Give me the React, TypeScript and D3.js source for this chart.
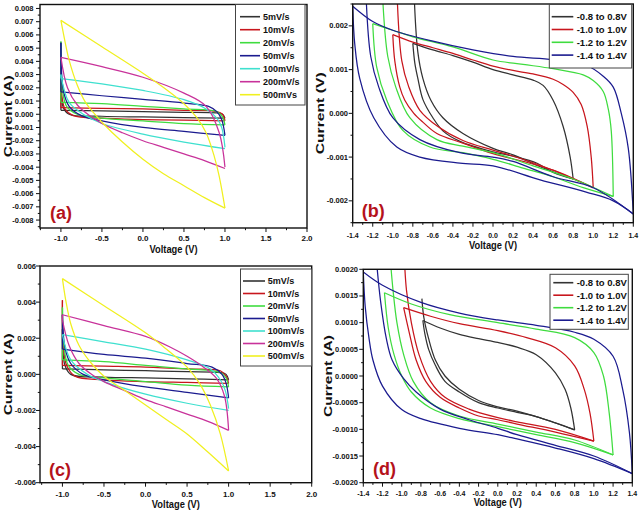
import React from "react";
import * as d3 from "d3";

type P = [number, number];

// ---------- labels / colours ----------
const rateLabelsA = ["5mV/s", "10mV/s", "20mV/s", "50mV/s", "100mV/s", "200mV/s", "500mVs"];
const rateLabelsC = ["5mV/s", "10mV/s", "20mV/s", "50mV/s", "100mV/s", "200mV/s", "500mV/s"];
const rateColors = ["#333333", "#c8161d", "#3fdc3f", "#1b1b8f", "#3fe0cf", "#c8329a", "#f0f020"];
const windowLabels = ["-0.8 to 0.8V", "-1.0 to 1.0V", "-1.2 to 1.2V", "-1.4 to 1.4V"];
const windowColors = ["#333333", "#c8161d", "#3fdc3f", "#1b1b8f"];

// ---------- ticks ----------
const aXTicks = [-1.0, -0.5, 0.0, 0.5, 1.0, 1.5, 2.0];
const aYTicks = [-0.008, -0.007, -0.006, -0.005, -0.004, -0.003, -0.002, -0.001, 0, 0.001, 0.002, 0.003, 0.004, 0.005, 0.006, 0.007, 0.008];
const bXTicks = [-1.4, -1.2, -1.0, -0.8, -0.6, -0.4, -0.2, 0.0, 0.2, 0.4, 0.6, 0.8, 1.0, 1.2, 1.4];
const bYTicks = [-0.002, -0.001, 0, 0.001, 0.002];
const cXTicks = [-1.0, -0.5, 0.0, 0.5, 1.0, 1.5, 2.0];
const cYTicks = [-0.006, -0.004, -0.002, 0, 0.002, 0.004, 0.006];
const dXTicks = [-1.4, -1.2, -1.0, -0.8, -0.6, -0.4, -0.2, 0.0, 0.2, 0.4, 0.6, 0.8, 1.0, 1.2, 1.4];
const dYTicks = [-0.002, -0.0015, -0.001, -0.0005, 0, 0.0005, 0.001, 0.0015, 0.002];

// ---------- panel (a): scan rates, forward (upper) and reverse (lower) branches ----------
const aUpper: P[][] = [
  [[-1, 0.0003], [-0.5, 0.00025], [0, 0.0002], [0.5, 0.00015], [0.9, 0.0001], [0.97, 0.0], [1, -0.0003]],
  [[-1, 0.0005], [-0.5, 0.00045], [0, 0.0004], [0.5, 0.0003], [0.9, 0.0002], [0.97, 0.0], [1, -0.0005]],
  [[-1, 0.0009], [-0.5, 0.0008], [0, 0.0006], [0.5, 0.0004], [0.9, 0.0002], [0.97, -0.0002], [1, -0.0008]],
  [[-1, 0.0017], [-0.5, 0.0014], [0, 0.00113], [0.5, 0.00085], [0.8, 0.0006], [0.9, 0.0002], [0.96, -0.0004], [1, -0.0016]],
  [[-1, 0.0027], [-0.5, 0.0023], [0, 0.0018], [0.5, 0.0011], [0.77, 0.0004], [0.9, -0.0003], [0.96, -0.001], [1, -0.0025]],
  [[-1, 0.0043], [-0.5, 0.0036], [0, 0.0028], [0.5, 0.0016], [0.77, 0.0006], [0.93, -0.0014], [1, -0.004]],
  [[-1, 0.0071], [-0.5, 0.0051], [0, 0.0031], [0.3, 0.0018], [0.5, 0.0008], [0.65, -0.0002], [0.77, -0.0014], [0.87, -0.0032], [0.93, -0.0047], [1, -0.0071]],
];
const aLower: P[][] = [
  [[1, -0.0003], [0.5, -0.00025], [0, -0.0002], [-0.5, -0.00015], [-0.9, 0.0], [-0.97, 0.0005], [-1, 0.0025]],
  [[1, -0.0005], [0.5, -0.00045], [0, -0.0004], [-0.5, -0.0003], [-0.85, -0.0001], [-0.95, 0.0004], [-0.99, 0.0015], [-1, 0.0035]],
  [[1, -0.0008], [0.5, -0.0007], [0, -0.0005], [-0.5, -0.0003], [-0.8, 0.0], [-0.93, 0.0006], [-0.98, 0.0018], [-1, 0.0055]],
  [[1, -0.0016], [0.5, -0.0013], [0, -0.001], [-0.5, -0.0005], [-0.75, -0.0001], [-0.9, 0.0006], [-0.97, 0.0018], [-1, 0.0054]],
  [[1, -0.0026], [0.5, -0.0021], [0, -0.0015], [-0.5, -0.0007], [-0.7, -0.0001], [-0.9, 0.0009], [-1, 0.003]],
  [[1, -0.0041], [0.75, -0.0035], [0.5, -0.003], [0.25, -0.0025], [0, -0.002], [-0.25, -0.0014], [-0.5, -0.0007], [-0.65, -0.0001], [-0.8, 0.0007], [-0.92, 0.002], [-1, 0.0043]],
  [[1, -0.0071], [0.75, -0.0063], [0.5, -0.0054], [0.25, -0.0045], [0, -0.0034], [-0.25, -0.0021], [-0.5, -0.0006], [-0.6, 0.0001], [-0.7, 0.0009], [-0.8, 0.0022], [-0.9, 0.0041], [-0.95, 0.0055], [-1, 0.0071]],
];

// ---------- panel (c) ----------
const cUpper: P[][] = [
  [[-1, 0.0003], [-0.5, 0.00025], [0, 0.0002], [0.5, 0.00015], [0.9, 0.0001], [0.97, 0.0], [1, -0.0003]],
  [[-1, 0.0005], [-0.5, 0.00045], [0, 0.0004], [0.5, 0.0003], [0.9, 0.0002], [0.97, -0.0001], [1, -0.0005]],
  [[-1, 0.0008], [-0.5, 0.0007], [0, 0.0005], [0.5, 0.0003], [0.9, 0.0001], [0.97, -0.0002], [1, -0.0007]],
  [[-1, 0.0014], [-0.5, 0.0011], [0, 0.0009], [0.5, 0.0006], [0.8, 0.0004], [0.92, 0.0], [0.97, -0.0005], [1, -0.0013]],
  [[-1, 0.0022], [-0.5, 0.0018], [0, 0.0014], [0.5, 0.0008], [0.78, 0.0003], [0.9, -0.0003], [0.96, -0.0009], [1, -0.0019]],
  [[-1, 0.0033], [-0.5, 0.0027], [0, 0.0021], [0.3, 0.0015], [0.5, 0.001], [0.7, 0.0004], [0.85, -0.0002], [0.95, -0.0012], [1, -0.0031]],
  [[-1, 0.0053], [-0.5, 0.0038], [0, 0.0023], [0.25, 0.0014], [0.5, 0.0004], [0.65, -0.0005], [0.78, -0.0017], [0.9, -0.0033], [1, -0.00535]],
];
const cLower: P[][] = [
  [[1, -0.0003], [0.5, -0.00025], [0, -0.0002], [-0.5, -0.00015], [-0.9, 0.0], [-0.97, 0.0005], [-1, 0.0025]],
  [[1, -0.0005], [0.5, -0.00045], [0, -0.0004], [-0.5, -0.0003], [-0.85, -0.0001], [-0.95, 0.0005], [-0.99, 0.0016], [-1, 0.0041]],
  [[1, -0.0007], [0.5, -0.0006], [0, -0.0004], [-0.5, -0.0002], [-0.8, 0.0], [-0.93, 0.0005], [-0.98, 0.0015], [-1, 0.0037]],
  [[1, -0.0013], [0.5, -0.001], [0, -0.0007], [-0.5, -0.0003], [-0.75, 0.0], [-0.9, 0.0006], [-0.97, 0.0015], [-1, 0.0033]],
  [[1, -0.002], [0.5, -0.0016], [0, -0.0011], [-0.5, -0.0004], [-0.7, 0.0], [-0.9, 0.0008], [-1, 0.0022]],
  [[1, -0.0031], [0.75, -0.0026], [0.5, -0.0022], [0.25, -0.0018], [0, -0.0014], [-0.25, -0.0009], [-0.5, -0.0004], [-0.65, 0.0], [-0.8, 0.0006], [-0.92, 0.0016], [-1, 0.003]],
  [[1, -0.00535], [0.75, -0.0043], [0.5, -0.0033], [0.25, -0.0025], [0, -0.0017], [-0.25, -0.0009], [-0.5, -0.0001], [-0.65, 0.0006], [-0.8, 0.0016], [-0.9, 0.0028], [-0.96, 0.0041], [-1, 0.0053]],
];

// ---------- panel (b): potential windows ----------
const bUpper: P[][] = [
  [[-0.8, 0.0016], [-0.6, 0.00145], [-0.4, 0.00132], [-0.2, 0.00117], [0, 0.001], [0.2, 0.00088], [0.4, 0.00076], [0.5, 0.00064], [0.6, 0.0003], [0.7, -0.0003], [0.77, -0.001], [0.8, -0.0015]],
  [[-1.0, 0.0018], [-0.8, 0.00163], [-0.6, 0.0015], [-0.4, 0.00137], [-0.2, 0.00122], [0, 0.00108], [0.2, 0.00098], [0.4, 0.0009], [0.6, 0.00078], [0.7, 0.00066], [0.8, 0.00048], [0.88, 0.0002], [0.94, -0.0003], [0.98, -0.001], [1.0, -0.0017]],
  [[-1.2, 0.00205], [-1.0, 0.0019], [-0.8, 0.00175], [-0.4, 0.00152], [0, 0.00122], [0.3, 0.00112], [0.6, 0.00102], [0.9, 0.00088], [1.0, 0.00075], [1.1, 0.0005], [1.15, 0.0001], [1.18, -0.0004], [1.2, -0.0019]],
  [[-1.4, 0.00245], [-1.2, 0.0021], [-1.0, 0.0019], [-0.6, 0.00165], [-0.2, 0.00145], [0.2, 0.0013], [0.6, 0.00123], [0.93, 0.0011], [1.1, 0.00085], [1.2, 0.0006], [1.28, 0.0], [1.35, -0.0008], [1.4, -0.0023]],
];
const bLowerOuter: P[][] = [
  [[0.8, -0.0015], [0.6, -0.00135], [0.44, -0.00114], [0.2, -0.00098], [0, -0.00088], [-0.33, -0.00064], [-0.5, -0.0004], [-0.6, -0.0001], [-0.7, 0.00032], [-0.75, 0.0008], [-0.78, 0.00115], [-0.8, 0.0016]],
  [[1.0, -0.0017], [0.6, -0.0013], [0.3, -0.0011], [0, -0.00092], [-0.3, -0.00068], [-0.56, -0.00046], [-0.7, -0.0002], [-0.79, 0.0], [-0.88, 0.0003], [-0.93, 0.0006], [-0.98, 0.0012], [-1.0, 0.0018]],
  [[1.2, -0.0019], [0.9, -0.0017], [0.6, -0.00145], [0.3, -0.00125], [0, -0.00105], [-0.3, -0.0009], [-0.63, -0.00077], [-0.9, -0.00039], [-1.06, 0.0003], [-1.16, 0.00105], [-1.2, 0.00205]],
  [[1.4, -0.0023], [1.2, -0.002], [0.93, -0.0018], [0.47, -0.00152], [0, -0.0012], [-0.33, -0.00114], [-0.73, -0.001], [-0.96, -0.00077], [-1.19, -0.0001], [-1.33, 0.0008], [-1.38, 0.0016], [-1.4, 0.00245]],
];
const bLowerInner: P[][] = [
  [[0.8, -0.0015], [0.5, -0.00125], [0.2, -0.00095], [0, -0.0008], [-0.3, -0.00046], [-0.5, -0.0001], [-0.62, 0.0003], [-0.7, 0.0008], [-0.75, 0.0014], [-0.785, 0.0026]],
  [[1.0, -0.0017], [0.6, -0.0013], [0.3, -0.00105], [0, -0.00084], [-0.3, -0.00062], [-0.55, -0.0003], [-0.73, 0.00007], [-0.84, 0.0006], [-0.91, 0.0012], [-0.955, 0.0026]],
  [[1.2, -0.0019], [0.8, -0.0015], [0.4, -0.0012], [0, -0.0009], [-0.3, -0.00075], [-0.56, -0.0006], [-0.83, -0.0001], [-0.97, 0.0006], [-1.05, 0.0013], [-1.1, 0.0026]],
  [[1.4, -0.0023], [1.0, -0.0017], [0.6, -0.00145], [0.2, -0.0011], [0, -0.001], [-0.33, -0.0009], [-0.73, -0.0006], [-1.0, -0.0001], [-1.14, 0.0006], [-1.22, 0.0013], [-1.265, 0.0026]],
];

// ---------- panel (d) ----------
const dUpper: P[][] = [
  [[-0.78, 0.00104], [-0.6, 0.0009], [-0.4, 0.00078], [-0.2, 0.0007], [0, 0.00063], [0.2, 0.00054], [0.4, 0.0004], [0.6, 0.00006], [0.7, -0.00025], [0.76, -0.0006], [0.8, -0.00101]],
  [[-0.98, 0.00128], [-0.7, 0.00112], [-0.4, 0.00098], [0, 0.00085], [0.3, 0.00072], [0.6, 0.00053], [0.8, 0.00019], [0.9, -0.00025], [0.96, -0.0007], [1.0, -0.00122]],
  [[-1.18, 0.00156], [-0.9, 0.00135], [-0.5, 0.00115], [0, 0.001], [0.4, 0.00088], [0.8, 0.00072], [1.0, 0.00044], [1.1, 0.0], [1.16, -0.0007], [1.2, -0.00148]],
  [[-1.4, 0.00195], [-1.2, 0.0017], [-0.8, 0.00138], [-0.4, 0.00118], [0, 0.00105], [0.4, 0.00095], [0.8, 0.00082], [1.0, 0.00069], [1.2, 0.00037], [1.3, -0.00025], [1.37, -0.00106], [1.4, -0.00183]],
];
const dLowerOuter: P[][] = [
  [[0.8, -0.00101], [0.6, -0.00088], [0.4, -0.00076], [0.2, -0.00068], [0, -0.0006], [-0.2, -0.0005], [-0.4, -0.0003], [-0.55, -0.0001], [-0.65, 0.0002], [-0.72, 0.0005], [-0.76, 0.0008], [-0.78, 0.00104]],
  [[1.0, -0.00122], [0.6, -0.00105], [0.2, -0.0009], [0, -0.00082], [-0.2, -0.00075], [-0.4, -0.0006], [-0.6, -0.0004], [-0.75, -0.0001], [-0.85, 0.0003], [-0.92, 0.0008], [-0.98, 0.00128]],
  [[1.2, -0.00148], [0.8, -0.00125], [0.4, -0.0011], [0, -0.00095], [-0.4, -0.0008], [-0.7, -0.0006], [-0.9, -0.0003], [-1.0, 0.0], [-1.08, 0.0004], [-1.14, 0.0009], [-1.18, 0.00156]],
  [[1.4, -0.00183], [1.0, -0.00155], [0.6, -0.00135], [0.2, -0.00118], [0, -0.0011], [-0.4, -0.00098], [-0.8, -0.0008], [-1.0, -0.00063], [-1.2, -0.00019], [-1.3, 0.0003], [-1.34, 0.0007], [-1.38, 0.0013], [-1.4, 0.00195]],
];
const dLowerInner: P[][] = [
  [[0.8, -0.00101], [0.5, -0.00082], [0.2, -0.00066], [0, -0.00058], [-0.2, -0.00046], [-0.4, -0.00025], [-0.55, 0.0], [-0.65, 0.0003], [-0.72, 0.0007], [-0.77, 0.0011], [-0.79, 0.00145]],
  [[1.0, -0.00122], [0.6, -0.001], [0.2, -0.00086], [0, -0.00078], [-0.3, -0.00062], [-0.55, -0.0004], [-0.7, -0.0001], [-0.82, 0.0004], [-0.9, 0.001], [-0.95, 0.0016], [-0.97, 0.0021]],
  [[1.2, -0.00148], [0.8, -0.0012], [0.4, -0.00105], [0, -0.0009], [-0.4, -0.00075], [-0.7, -0.0005], [-0.88, -0.0001], [-0.98, 0.0004], [-1.05, 0.001], [-1.09, 0.0016], [-1.115, 0.0021]],
  [[1.4, -0.00183], [1.0, -0.0015], [0.6, -0.0013], [0.2, -0.0011], [0, -0.00098], [-0.3, -0.00082], [-0.6, -0.00062], [-0.85, -0.0003], [-0.98, -0.00005], [-1.1, 0.0003], [-1.16, 0.0007], [-1.22, 0.0014], [-1.26, 0.0021]],
];

const FONT = "'Liberation Sans', Arial, Helvetica, sans-serif";
const TAG = "#b5121b";

interface Loop { color: string; upper: P[]; lowers: P[][]; }
interface Legend { x0: number; y0: number; x1: number; y1: number; firstY: number; step: number; lx0: number; lx1: number; tx: number; labels: string[]; colors: string[]; font: number; }
interface Spec {
  id: string; x0: number; x1: number; y0: number; y1: number;
  xDomain: [number, number]; yDomain: [number, number];
  xTicks: number[]; yTicks: number[]; xDigits: number; yDigits: number;
  xFont: number; yFont: number; yLabelRight: number; xLabelBase: number; xTitleBase: number;
  yTitleX: number; yTitle: string; tag: string; tagX: number; tagY: number;
  legend: Legend; loops: Loop[];
}

function minors(t: number[], dom: [number, number]): number[] {
  const out: number[] = [];
  const st = t[1] - t[0];
  for (let i = -1; i < t.length; i++) {
    const m = t[0] + (i + 0.5) * st;
    if (m >= Math.min(...dom) - 1e-9 && m <= Math.max(...dom) + 1e-9) out.push(m);
  }
  return out;
}

function Panel({ s }: { s: Spec }) {
  const xs = d3.scaleLinear().domain(s.xDomain).range([s.x0, s.x1]);
  const ys = d3.scaleLinear().domain(s.yDomain).range([s.y1, s.y0]);
  const line = d3.line<P>().x((d) => xs(d[0])).y((d) => ys(d[1])).curve(d3.curveCatmullRom.alpha(0.5));
  const xm = minors(s.xTicks, s.xDomain);
  const ym = minors(s.yTicks, s.yDomain);
  const lg = s.legend;
  const cx = (s.x0 + s.x1) / 2;
  const cy = (s.y0 + s.y1) / 2;
  return (
    <g>
      <defs>
        <clipPath id={"clip-" + s.id}>
          <rect x={s.x0} y={s.y0} width={s.x1 - s.x0} height={s.y1 - s.y0} />
        </clipPath>
      </defs>
      <g clipPath={`url(#clip-${s.id})`} fill="none" strokeWidth={1.25} strokeLinejoin="round">
        {s.loops.map((lp, i) => {
          const lo = lp.lowers[0];
          const end = lo[lo.length - 1];
          const st = lp.upper[0];
          return (
            <g key={i} stroke={lp.color}>
              {lp.lowers.map((l, j) => (
                <path key={j} d={line(l) || ""} />
              ))}
              <path d={line(lp.upper) || ""} />
              <line x1={xs(end[0])} y1={ys(end[1])} x2={xs(st[0])} y2={ys(st[1])} />
            </g>
          );
        })}
      </g>
      {/* frame */}
      <rect x={s.x0} y={s.y0} width={s.x1 - s.x0} height={s.y1 - s.y0} fill="none" stroke="#111" strokeWidth={1.4} />
      {/* ticks */}
      <g stroke="#111" strokeWidth={1}>
        {s.xTicks.map((t, i) => (
          <line key={"xt" + i} x1={xs(t)} x2={xs(t)} y1={s.y1} y2={s.y1 + 4} />
        ))}
        {xm.map((t, i) => (
          <line key={"xm" + i} x1={xs(t)} x2={xs(t)} y1={s.y1} y2={s.y1 + 2.2} />
        ))}
        {s.yTicks.map((t, i) => (
          <line key={"yt" + i} x1={s.x0 - 4} x2={s.x0} y1={ys(t)} y2={ys(t)} />
        ))}
        {ym.map((t, i) => (
          <line key={"ym" + i} x1={s.x0 - 2.2} x2={s.x0} y1={ys(t)} y2={ys(t)} />
        ))}
      </g>
      <g fontFamily={FONT} fontWeight="bold" fill="#111">
        {s.xTicks.map((t, i) => (
          <text key={"xl" + i} x={xs(t)} y={s.xLabelBase} fontSize={s.xFont} textAnchor="middle">
            {t.toFixed(s.xDigits)}
          </text>
        ))}
        {s.yTicks.map((t, i) => (
          <text key={"yl" + i} x={s.yLabelRight} y={ys(t)} fontSize={s.yFont} textAnchor="end" dominantBaseline="central">
            {t.toFixed(s.yDigits)}
          </text>
        ))}
        <text x={cx} y={s.xTitleBase} fontSize={10} textAnchor="middle" textLength={48} lengthAdjust="spacingAndGlyphs">
          Voltage (V)
        </text>
        <text
          transform={`translate(${s.yTitleX},${cy}) rotate(-90)`}
          fontSize={10.5}
          textAnchor="middle"
          dominantBaseline="central"
          textLength={82}
          lengthAdjust="spacingAndGlyphs"
        >
          {s.yTitle}
        </text>
        <text x={s.tagX} y={s.tagY} fontSize={18} fill={TAG}>
          {s.tag}
        </text>
      </g>
      {/* legend */}
      <g>
        <rect x={lg.x0} y={lg.y0} width={lg.x1 - lg.x0} height={lg.y1 - lg.y0} fill="#fff" stroke="#444" strokeWidth={1} />
        {lg.labels.map((lab, i) => (
          <g key={i}>
            <line x1={lg.lx0} x2={lg.lx1} y1={lg.firstY + i * lg.step} y2={lg.firstY + i * lg.step} stroke={lg.colors[i]} strokeWidth={1.6} />
            <text x={lg.tx} y={lg.firstY + i * lg.step} fontFamily={FONT} fontWeight="bold" fontSize={lg.font} dominantBaseline="central" fill="#111">
              {lab}
            </text>
          </g>
        ))}
      </g>
    </g>
  );
}

const specs: Spec[] = [
  {
    id: "a", x0: 40, x1: 307, y0: 4.5, y1: 228, xDomain: [-1.255, 2.0], yDomain: [-0.0086, 0.0083],
    xTicks: aXTicks, yTicks: aYTicks, xDigits: 1, yDigits: 3, xFont: 8, yFont: 7.5,
    yLabelRight: 33.5, xLabelBase: 240.5, xTitleBase: 252.5, yTitleX: 7.5, yTitle: "Current (A)",
    tag: "(a)", tagX: 50, tagY: 218.5,
    legend: { x0: 235.5, y0: 4.5, x1: 305, y1: 105, firstY: 16.7, step: 13, lx0: 240, lx1: 260, tx: 263, labels: rateLabelsA, colors: rateColors, font: 9 },
    loops: rateColors.map((c, i) => ({ color: c, upper: aUpper[i], lowers: [aLower[i]] })),
  },
  {
    id: "b", x0: 352.7, x1: 633.3, y0: 4, y1: 222.7, xDomain: [-1.4, 1.4], yDomain: [-0.0025, 0.0025],
    xTicks: bXTicks, yTicks: bYTicks, xDigits: 1, yDigits: 3, xFont: 7, yFont: 7.5,
    yLabelRight: 348, xLabelBase: 238.3, xTitleBase: 248.5, yTitleX: 320, yTitle: "Current (V)",
    tag: "(b)", tagX: 361.7, tagY: 216.5,
    legend: { x0: 549.3, y0: 4.5, x1: 631.7, y1: 68, firstY: 16.7, step: 12.8, lx0: 551.7, lx1: 573.3, tx: 576.7, labels: windowLabels, colors: windowColors, font: 9.5 },
    loops: windowColors.map((c, i) => ({ color: c, upper: bUpper[i], lowers: [bLowerOuter[i], bLowerInner[i]] })),
  },
  {
    id: "c", x0: 40, x1: 311.7, y0: 266, y1: 482.7, xDomain: [-1.27, 2.0], yDomain: [-0.006, 0.006],
    xTicks: cXTicks, yTicks: cYTicks, xDigits: 1, yDigits: 3, xFont: 8, yFont: 7.5,
    yLabelRight: 36, xLabelBase: 497, xTitleBase: 507.5, yTitleX: 7.5, yTitle: "Current (A)",
    tag: "(c)", tagX: 49, tagY: 475.5,
    legend: { x0: 240.5, y0: 269, x1: 311.7, y1: 366, firstY: 281, step: 12.5, lx0: 243, lx1: 265, tx: 267.7, labels: rateLabelsC, colors: rateColors, font: 9 },
    loops: rateColors.map((c, i) => ({ color: c, upper: cUpper[i], lowers: [cLower[i]] })),
  },
  {
    id: "d", x0: 363.3, x1: 632.3, y0: 269.3, y1: 482.7, xDomain: [-1.4, 1.4], yDomain: [-0.002, 0.002],
    xTicks: dXTicks, yTicks: dYTicks, xDigits: 1, yDigits: 4, xFont: 7, yFont: 7.5,
    yLabelRight: 358, xLabelBase: 496, xTitleBase: 506, yTitleX: 327.5, yTitle: "Current (A)",
    tag: "(d)", tagX: 373, tagY: 474.5,
    legend: { x0: 550, y0: 274.3, x1: 628.3, y1: 329.3, firstY: 282.7, step: 12.5, lx0: 553.3, lx1: 573.3, tx: 576.7, labels: windowLabels, colors: windowColors, font: 9.5 },
    loops: windowColors.map((c, i) => ({ color: c, upper: dUpper[i], lowers: [dLowerOuter[i], dLowerInner[i]] })),
  },
];

export default function App() {
  return (
    <svg width={640} height={512} viewBox="0 0 640 512" style={{ position: "absolute", left: 0, top: 0, background: "#fff" }}>
      <rect x={0} y={0} width={640} height={512} fill="#fff" />
      {specs.map((s) => (
        <Panel key={s.id} s={s} />
      ))}
    </svg>
  );
}
